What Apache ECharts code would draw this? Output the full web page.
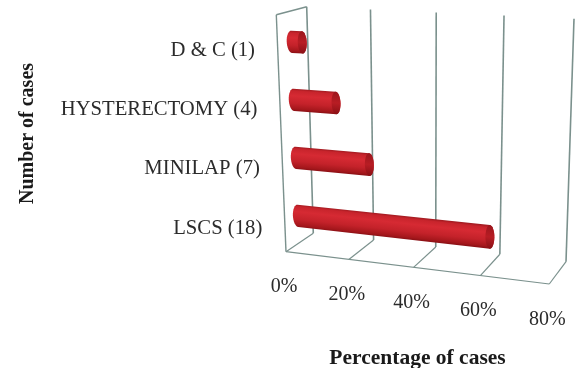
<!DOCTYPE html>
<html>
<head>
<meta charset="utf-8">
<style>html,body{margin:0;padding:0;background:#fff}#chart{width:576px;height:368px}</style>
<script src="https://cdn.jsdelivr.net/npm/echarts@6/dist/echarts.min.js"></script>
</head>
<body>
<div id="chart"></div>
<script>
// Operative procedures: share of cases per procedure
const categories = ['LSCS (18)', 'MINILAP (7)', 'HYSTERECTOMY (4)', 'D & C (1)'];
const percentages = [60, 23.3, 13.3, 3.3];
const ticks = [0, 20, 40, 60, 80];
const tickLabels = ['0%', '20%', '40%', '60%', '80%'];

// Box corners on screen for the oblique view, [front, back] per edge
const BOX = {
  bottomLeft: [[286, 251.7], [313.3, 233.3]],
  bottomRight: [[549.3, 284], [566, 261.7]],
  topLeft: [[276.3, 14.7], [306.7, 6.7]],
  topRight: [[555.5, 28.4], [574, 18.7]]
};
const FORESHORTEN = 0.94;
const BAR_DEPTH = 0.47;
const BAR_DROP = 0.008;
const BAR_HALF = 0.048;
const LINE = '#7b918d';
const INK = '#2b2b2b';
const SERIF = '"Liberation Serif", serif';

const mix = (a, b, t) => [a[0] + (b[0] - a[0]) * t, a[1] + (b[1] - a[1]) * t];

// u: along the value axis, w: up the category axis, d: into the picture (all 0..1)
function project(u, w, d) {
  const s = FORESHORTEN * u / (1 + (FORESHORTEN - 1) * u);
  const bottom = mix(mix(BOX.bottomLeft[0], BOX.bottomRight[0], s), mix(BOX.bottomLeft[1], BOX.bottomRight[1], s), d);
  const top = mix(mix(BOX.topLeft[0], BOX.topRight[0], s), mix(BOX.topLeft[1], BOX.topRight[1], s), d);
  return mix(bottom, top, w);
}

function toUnit(params, api, value, cat) {
  const cs = params.coordSys;
  const p = api.coord([value, cat]);
  return [(p[0] - cs.x) / cs.width, 1 - (p[1] - cs.y) / cs.height];
}

const line = (a, b, width) => ({
  type: 'line',
  shape: { x1: a[0], y1: a[1], x2: b[0], y2: b[1] },
  style: { stroke: LINE, lineWidth: width, fill: null }
});

function renderFrame(params, api) {
  const v = api.value(0);
  const u = toUnit(params, api, v, 0)[0];
  const kids = [
    line(project(u, 0, 1), project(u, 1, 1), 1.6),
    line(project(u, 0, 0), project(u, 0, 1), 1.2)
  ];
  if (params.dataIndex === 0) {
    kids.push(line(project(0, 0, 0), project(1, 0, 0), 1.2));
    kids.push(line(project(0, 0, 0), project(0, 1, 0), 1.4));
    kids.push(line(project(0, 1, 0), project(0, 1, 1), 1.4));
  }
  const foot = project(u, 0, 0);
  kids.push({
    type: 'text',
    style: {
      text: tickLabels[params.dataIndex], x: foot[0] - 2, y: foot[1] + 35.5,
      align: 'center', verticalAlign: 'middle', fill: INK, font: '20px ' + SERIF
    }
  });
  return { type: 'group', children: kids };
}

function ellipsePoints(c, along, across, from, to, n) {
  const pts = [];
  for (let i = 0; i <= n; i++) {
    const t = from + (to - from) * i / n;
    pts.push([c[0] + across[0] * Math.cos(t) + along[0] * Math.sin(t),
              c[1] + across[1] * Math.cos(t) + along[1] * Math.sin(t)]);
  }
  return pts;
}

function renderBar(params, api) {
  const value = api.value(0), cat = api.value(1);
  const end = toUnit(params, api, value, cat);
  const start = toUnit(params, api, 0, cat);
  const w = end[1] - BAR_DROP;
  const A = project(start[0], w, BAR_DEPTH), B = project(end[0], w, BAR_DEPTH);
  const half = (u) => {
    const t = project(u, w + BAR_HALF, BAR_DEPTH), b = project(u, w - BAR_HALF, BAR_DEPTH);
    return [(t[0] - b[0]) / 2, (t[1] - b[1]) / 2];
  };
  const ha = half(start[0]), hb = half(end[0]);
  const len = Math.hypot(B[0] - A[0], B[1] - A[1]);
  const dir = [(B[0] - A[0]) / len, (B[1] - A[1]) / len];
  const capA = [dir[0] * 5, dir[1] * 5], capB = [dir[0] * 4.5, dir[1] * 4.5];
  const body = ellipsePoints(A, capA, ha, 0, -Math.PI, 16)
    .concat(ellipsePoints(B, capB, hb, Math.PI, 0, 16));
  const mid = mix(A, B, 0.5), r = Math.hypot(mix(ha, hb, 0.5)[0], mix(ha, hb, 0.5)[1]);
  // Shading runs across the cylinder, square to its own axis
  const normal = [dir[1] * r, -dir[0] * r];
  const shade = (stops) => ({
    type: 'linear', global: true,
    x: mid[0] + normal[0], y: mid[1] + normal[1], x2: mid[0] - normal[0], y2: mid[1] - normal[1],
    colorStops: stops
  });
  return {
    type: 'group',
    children: [
      { type: 'polygon', shape: { points: body },
        style: { fill: shade([
          { offset: 0, color: '#a01a20' }, { offset: 0.1, color: '#c8242c' },
          { offset: 0.32, color: '#d62a33' }, { offset: 0.65, color: '#c4222a' },
          { offset: 0.9, color: '#a5171c' }, { offset: 1, color: '#8a1015' }
        ]) } },
      { type: 'polygon', shape: { points: ellipsePoints(B, capB, hb, 0, Math.PI * 2, 32) },
        style: { fill: shade([
          { offset: 0, color: '#9a161c' }, { offset: 0.5, color: '#b81d24' },
          { offset: 1, color: '#8a1015' }
        ]) } }
    ]
  };
}

function renderCategoryLabel(params, api) {
  const cat = api.value(0);
  const w = toUnit(params, api, 0, cat)[1];
  const p = project(0, w, 0);
  return {
    type: 'text',
    style: {
      text: categories[cat], x: p[0] - 22.5, y: p[1] + 6,
      align: 'right', verticalAlign: 'middle', fill: INK, font: '20.7px ' + SERIF
    }
  };
}

const chart = echarts.init(document.getElementById('chart'), null, { renderer: 'canvas' });
chart.setOption({
  animation: false,
  backgroundColor: '#fff',
  grid: { left: 290, top: 16, width: 255, height: 235, outerBoundsMode: 'none' },
  xAxis: {
    type: 'value', min: 0, max: 80, interval: 20,
    name: 'Percentage of cases', nameLocation: 'middle', nameGap: 96,
    nameTextStyle: { fontFamily: SERIF, fontSize: 21.5, fontWeight: 'bold', color: '#1a1a1a' },
    axisLine: { show: false }, axisTick: { show: false }, axisLabel: { show: false }, splitLine: { show: false }
  },
  yAxis: {
    type: 'category', data: categories,
    name: 'Number of cases', nameLocation: 'middle', nameGap: 252,
    nameTextStyle: { fontFamily: SERIF, fontSize: 20, fontWeight: 'bold', color: '#1a1a1a' },
    axisLine: { show: false }, axisTick: { show: false }, axisLabel: { show: false }, splitLine: { show: false }
  },
  series: [
    { type: 'custom', renderItem: renderFrame, data: ticks.map(t => [t]), encode: { x: 0 }, silent: true, z: 1 },
    { type: 'custom', renderItem: renderBar, data: percentages.map((p, i) => [p, i]), encode: { x: 0, y: 1 }, silent: true, z: 2 },
    { type: 'custom', renderItem: renderCategoryLabel, data: categories.map((c, i) => [i]), encode: { y: 0 }, silent: true, z: 3 }
  ]
});
</script>
</body>
</html>
